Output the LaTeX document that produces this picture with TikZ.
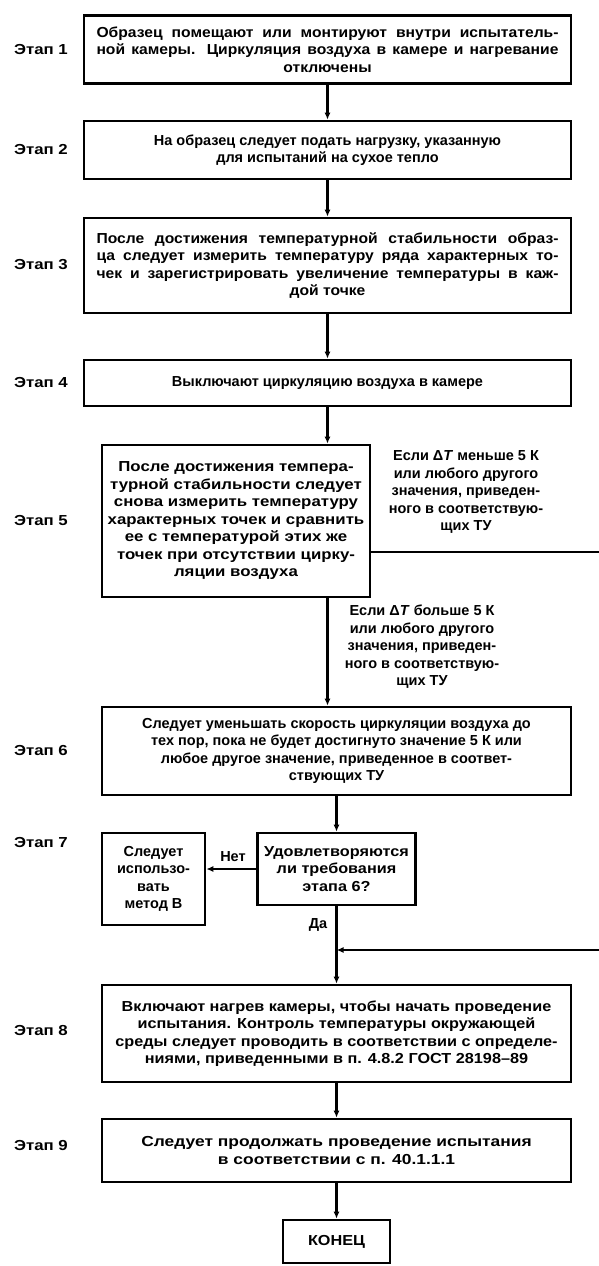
\documentclass[tikz,border=0pt]{standalone}
\usepackage{fontspec}
\setmainfont{Liberation Sans}
\newfontfamily\fsA{Liberation Sans}[FakeStretch=1.2]
\newfontfamily\fsB{Liberation Sans}[FakeStretch=1.12]
\newfontfamily\fsC{Liberation Sans}[FakeStretch=1.16]
\newfontfamily\fsD{Liberation Sans}[FakeStretch=1.08]
\usetikzlibrary{arrows.meta}
\newcommand\txtf{\fontsize{14.5}{17.5}\selectfont\bfseries}
\newcommand\jline[2]{\makebox[#1][s]{#2}}
\begin{document}
\begin{tikzpicture}[x=1pt,y=1pt,
  box/.style={draw,line width=2.6pt,align=center,inner sep=0pt,font=\txtf},
  arr/.style={line width=2.2pt,-{Latex[length=7pt,width=6pt]}},
  lab/.style={font=\txtf,align=center,inner sep=0pt},
  wA/.style={font=\fsA\txtf},
  wB/.style={font=\fsB\txtf},
  wC/.style={font=\fsC\txtf},
  wD/.style={font=\fsD\txtf}]
\useasboundingbox[fill=white] (0,0) rectangle (598,-1266);

\node[box,wD,minimum width=487pt,minimum height=68pt] (b1) at (327.5,-49.5)
  {\jline{462pt}{Образец помещают или монтируют внутри испытатель-}\\
   \jline{462pt}{ной камеры. Циркуляция воздуха в камере и нагревание}\\
   отключены};
\node[box,minimum width=487pt,minimum height=58pt] (b2) at (327.5,-150)
  {На образец следует подать нагрузку, указанную\\для испытаний на сухое тепло};
\node[box,wD,minimum width=487pt,minimum height=95pt] (b3) at (327.5,-265.5)
  {\jline{462pt}{После достижения температурной стабильности образ-}\\
   \jline{462pt}{ца следует измерить температуру ряда характерных то-}\\
   \jline{462pt}{чек и зарегистрировать увеличение температуры в каж-}\\
   дой точке};
\node[box,minimum width=487pt,minimum height=46pt] (b4) at (327.5,-383)
  {Выключают циркуляцию воздуха в камере};
\node[box,wC,minimum width=268pt,minimum height=152pt] (b5) at (236,-521)
  {После достижения темпера-\\турной стабильности следует\\снова измерить температуру\\характерных точек и сравнить\\ее с температурой этих же\\точек при отсутствии цирку-\\ляции воздуха};
\node[box,minimum width=469pt,minimum height=88pt] (b6) at (336.5,-751)
  {Следует уменьшать скорость циркуляции воздуха до\\тех пор, пока не будет достигнуто значение 5 К или\\любое другое значение, приведенное в соответ-\\ствующих ТУ};
\node[box,wB,minimum width=158pt,minimum height=72pt] (b7) at (336.5,-869)
  {Удовлетворяются\\ли требования\\этапа 6?};
\node[box,minimum width=103pt,minimum height=92pt] (lb) at (153.5,-879)
  {Следует\\использо-\\вать\\метод В};
\node[box,wB,minimum width=469pt,minimum height=97pt] (b8) at (336.5,-1033.5)
  {Включают нагрев камеры, чтобы начать проведение\\испытания. Контроль температуры окружающей\\среды следует проводить в соответствии с определе-\\ниями, приведенными в п. 4.8.2 ГОСТ 28198–89};
\node[box,wA,minimum width=469pt,minimum height=63pt] (b9) at (336.5,-1150.5)
  {Следует продолжать проведение испытания\\в соответствии с п. 40.1.1.1};
\node[box,wB,minimum width=107pt,minimum height=43pt] (end) at (336.5,-1241.5)
  {КОНЕЦ};

\node[lab,wC] (s1) at (41,-50) {Этап 1};
\node[lab,wC] (s2) at (41,-150) {Этап 2};
\node[lab,wC] (s3) at (41,-265) {Этап 3};
\node[lab,wC] (s4) at (41,-383) {Этап 4};
\node[lab,wC] (s5) at (41,-521) {Этап 5};
\node[lab,wC] (s6) at (41,-750) {Этап 6};
\node[lab,wC] (s7) at (41,-842) {Этап 7};
\node[lab,wC] (s8) at (41,-1030) {Этап 8};
\node[lab,wC] (s9) at (41,-1145) {Этап 9};

\node[lab] (c1) at (466,-492) {Если Δ\textit{T} меньше 5 К\\или любого другого\\значения, приведен-\\ного в соответствую-\\щих ТУ};
\node[lab] (c2) at (422,-647) {Если Δ\textit{T} больше 5 К\\или любого другого\\значения, приведен-\\ного в соответствую-\\щих ТУ};
\node[lab] (no) at (233,-857) {Нет};
\node[lab] (yes) at (318,-925) {Да};

\coordinate (r1) at (601,-552);
\coordinate (r2) at (601,-950);

\draw[arr] (b1.south) -- (b2.north);
\draw[arr] (b2.south) -- (b3.north);
\draw[arr] (b3.south) -- (b4.north);
\draw[arr] (b4.south) -- (b4.south |- b5.north);
\draw[arr] (b4.south |- b5.south) -- (b4.south |- b6.north);
\draw[arr] (b6.south) -- (b7.north);
\draw[arr] (b7.west) -- (lb.east |- b7.west);
\draw[arr] (b7.south) -- (b8.north);
\draw[arr] (b8.south) -- (b9.north);
\draw[arr] (b9.south) -- (end.north);
\draw[arr] (r1 -| b5.east) -- (r1) -- (r2) -- (r2 -| b7.south);
\end{tikzpicture}
\end{document}
